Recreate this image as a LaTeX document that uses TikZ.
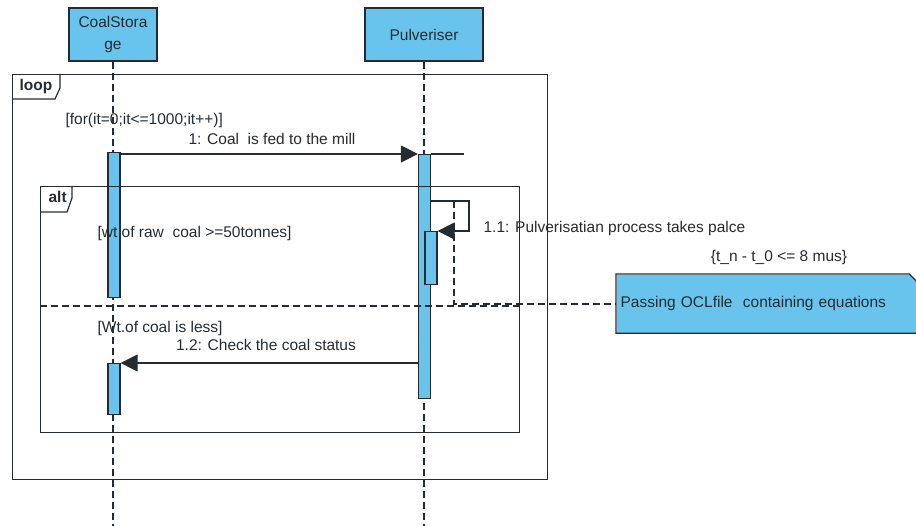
\documentclass[tikz,border=0pt]{standalone}
\usepackage{fontspec}
\setmainfont{Liberation Sans}
\usepackage{xcolor}
\usetikzlibrary{arrows.meta}

\definecolor{umlblue}{RGB}{104,196,236}
\definecolor{umlline}{RGB}{36,44,50}

\begin{document}
\begin{tikzpicture}[x=1pt, y=-1pt, color=umlline, line width=1.2pt,
    font=\fontsize{15.5}{22}\selectfont]
\tikzset{
        headbox/.style={draw, fill=umlblue, align=center, minimum height=53pt, inner sep=0pt},
        actbar/.style={draw, fill=umlblue, minimum width=12pt, inner sep=0pt, anchor=north},
        umlframe/.style={draw, inner sep=0pt, anchor=north west},
        tablbl/.style={font=\fontsize{15.5}{18}\selectfont\bfseries, anchor=west, inner sep=0pt},
        lifeline/.style={dash pattern=on 7pt off 4pt},
        msg/.style={-{Triangle[length=17pt,width=17pt]}},
        guard/.style={anchor=west, inner sep=0pt},
        oclnote/.style={fill=umlblue, align=left, text width=296pt, inner xsep=4pt, minimum height=58pt, anchor=north west},
    }
  \useasboundingbox (0,0) rectangle (916,526);
  % lifelines
  \node[headbox, minimum width=88pt] (cs) at (113,34.5) {CoalStora\\ge};
  \node[headbox, minimum width=118pt] (pv) at (424,34.5) {Pulveriser};
  \coordinate (csend) at (113,526);
  \coordinate (pvend) at (424,526);
  \draw[lifeline] (cs) -- (csend);
  \draw[lifeline] (pv) -- (pvend);
  % activations
  \node[actbar, minimum height=145pt] (csa1) at (114,152) {};
  \node[actbar, minimum height=244pt] (pva) at (424.5,154) {};
  \node[actbar, minimum height=53pt] (pvb) at (431,231) {};
  \node[actbar, minimum height=51pt] (csa2) at (114,363) {};
  % combined fragments
  \node[umlframe, minimum width=535pt, minimum height=405pt] (loop) at (12,74) {};
  \node[tablbl] (looptab) at (19,86) {loop};
  \draw ([xshift=48pt]loop.north west) -- ++(0,14) -- ++(-5,11) -- ([yshift=-25pt]loop.north west);
  \node[umlframe, minimum width=479pt, minimum height=246pt] (alt) at (40,186) {};
  \node[tablbl] (alttab) at (48,197) {alt};
  \draw ([xshift=32pt]alt.north west) -- ++(0,12) -- ++(-5,14) -- ([yshift=-26pt]alt.north west);
  \draw[lifeline] (40,306) -- (519,306);
  % guards
  \node[guard] (loopguard) at (65,120) {[for(it=0;it<=1000;it++)]};
  \node[guard] (altguard1) at (97,233) {[wt of raw\ \ coal >=50tonnes]};
  \node[guard] (altguard2) at (97,328) {[Wt.of coal is less]};
  % messages
  \draw[msg] (csa1.east |- pva.north) -- (pva.north west);
  \draw (pva.north east) -- ++(33,0);
  \node (m1lbl) at (272,139) {1: Coal\ \ is fed to the mill};
  \coordinate (selftop) at (469,201);
  \draw[msg] (selftop -| pva.east) -- (selftop) -- (selftop |- pvb.north) -- (pvb.north east);
  \node[guard] (m11lbl) at (483,228) {1.1: Pulverisatian process takes palce};
  \draw[msg] (pva.west |- csa2.north) -- (csa2.north east);
  \node (m12lbl) at (266,345) {1.2: Check the coal status};
  % note
  \node (ocl) at (779,257) {\{t\_n - t\_0 <= 8 mus\}};
  \node[oclnote] (note) at (616,274) {Passing OCLfile\ \ containing equations};
  \fill[white] ([xshift=-12pt]note.north east) -- (note.north east) -- ([yshift=-12pt]note.north east) -- cycle;
  \draw (note.north west) -- ([xshift=-12pt]note.north east) -- ([yshift=-12pt]note.north east)
    -- (note.south east) -- (note.south west) -- cycle;
  \coordinate (nbend) at (454,304);
  \draw[lifeline] (nbend |- selftop) -- (nbend) -- (note.west |- nbend);
\end{tikzpicture}
\end{document}
